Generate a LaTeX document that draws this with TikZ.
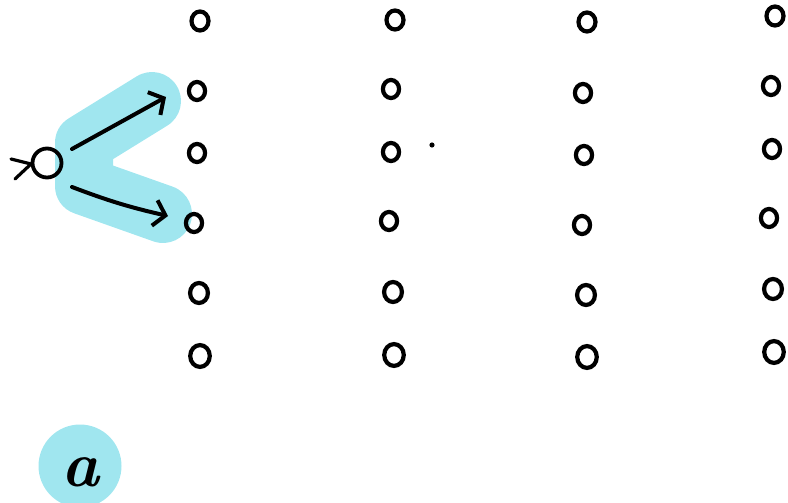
\documentclass[tikz,border=0pt]{standalone}
\usetikzlibrary{arrows.meta,shapes.geometric}
\definecolor{hl}{RGB}{160,230,239}
\begin{document}
\begin{tikzpicture}[x=1pt,y=-1pt,
  dotc/.style={draw=black,line width=4.2pt,ellipse,minimum width=14pt,minimum height=16pt,inner sep=0pt},
  bigc/.style={draw=black,line width=3.8pt,circle,minimum size=29pt,inner sep=0pt},
  arr/.style={line width=4pt,line cap=round,-{Straight Barb[length=11pt,width=26pt,line width=4pt]}},
  hlpath/.style={hl,line width=58pt,line cap=round,line join=round}]
\useasboundingbox (0,0) rectangle (788,503);
% highlight
\draw[hlpath] (152,101) -- (84,143) -- (84,186) -- (163,214);
% grid
\foreach \n/\x/\y/\s in {
 c11/200/21/1, c12/197/91/0.95, c13/197/153/0.95, c14/194/223/0.95, c15/199/293/1.05, c16/200/356/1.15,
 c21/395/20/1, c22/391/89/0.95, c23/391/152/0.95, c24/389/221/0.95, c25/393/292/1.05, c26/394/355/1.15,
 c31/587/22/1, c32/583/93/0.95, c33/584/155/0.95, c34/582/225/0.95, c35/586/295/1.05, c36/587/357/1.15,
 c41/775/16/1, c42/771/86/0.95, c43/772/149/0.95, c44/769/218/0.95, c45/773/289/1.05, c46/774/352/1.15}
 \node[dotc,minimum width=17*\s pt,minimum height=19*\s pt] (\n) at (\x,\y) {};
% start node
\node[bigc] (s) at (47,163) {};
\coordinate (e1) at (11,159);
\coordinate (e2) at (31,164);
\coordinate (e3) at (15,179);
\draw[line width=3.2pt,line cap=round,line join=round] (e1) -- (e2) -- (e3);
% arrows
\coordinate (a1s) at (72,149);
\coordinate (a1e) at (166,97);
\coordinate (a2s) at (72,187);
\coordinate (a2e) at (168,216);
\draw[arr] (a1s) -- (a1e);
\draw[arr] (a2s) to[bend right=4] (a2e);
% dot
\fill (432,145) circle (2.6pt);
% label
\node[circle,fill=hl,minimum size=83pt,inner sep=0pt] (lab) at (80,466) {};
\node[font=\fontsize{64}{64}\selectfont\bfseries\itshape,inner sep=0pt] (labt) at ([yshift=-6pt]lab.center) {a};
\end{tikzpicture}
\end{document}
